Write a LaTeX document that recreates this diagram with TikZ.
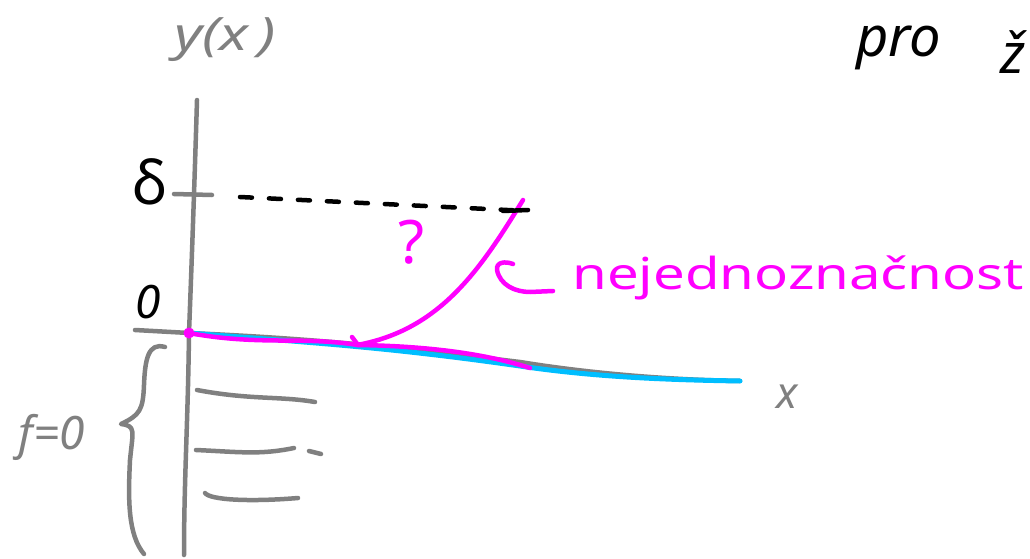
\documentclass[tikz,border=0pt]{standalone}
\usepackage{fontspec}
\setmainfont{Noto Sans}
\definecolor{axgray}{RGB}{128,128,128}
\definecolor{mag}{RGB}{255,0,255}
\definecolor{cyn}{RGB}{0,190,255}
\begin{document}
\begin{tikzpicture}[x=1pt,y=-1pt,
  ax/.style={draw=axgray,line width=4.5pt,line cap=round,line join=round},
  mg/.style={draw=mag,line width=4.5pt,line cap=round,line join=round},
  cy/.style={draw=cyn,line width=5pt,line cap=round,line join=round},
  bk/.style={draw=black,line width=4.5pt,line cap=round},
  lbl/.style={inner sep=0pt,font=\fontsize{34}{34}\selectfont}]
\useasboundingbox[fill=white] (0,0) rectangle (1030,559);
% y axis
\coordinate (ytop) at (197,100);
\coordinate (orig) at (189,333);
\coordinate (ybot) at (184,555);
\draw[ax] (ytop) .. controls (194,200) and (191,280) .. (orig) .. controls (188,420) and (184,480) .. (ybot);
% delta tick
\coordinate (dt1) at (174,194);
\coordinate (dt2) at (212,195);
\draw[ax] (dt1) -- (dt2);
% x axis
\coordinate (xl) at (135,330);
\coordinate (xr) at (740,381);
\draw[ax] (xl) -- (orig) .. controls (300,338) and (380,345) .. (520,362) .. controls (600,375) and (680,380) .. (xr);
% cyan
\draw[cy] (orig) .. controls (300,342) and (380,346) .. (520,366) .. controls (600,378) and (680,380) .. (xr);
% magenta along axis
\coordinate (mend) at (530,368);
\draw[mg] (orig) .. controls (260,346) and (300,336) .. (358,345) .. controls (420,346) and (480,352) .. (mend);
\fill[mag] (orig) circle (5.5pt);
% magenta rising curve
\coordinate (branch) at (357,345);
\coordinate (ctop) at (523,200);
\draw[mg] (branch) .. controls (440,330) and (480,270) .. (ctop);
\draw[mg] (352,337) -- (358,345);
% dashed delta line
\coordinate (d1) at (240,197);
\coordinate (d2) at (528,211);
\draw[bk,dash pattern=on 12pt off 17pt] (d1) -- (d2);
\draw[bk] (503,211) -- (528,210);
% labels
\node[lbl,text=axgray,anchor=west] (ylab) at (174,40) {\fontsize{46}{46}\selectfont\scalebox{1.3}[1]{\itshape y(x\,)}};
\node[lbl,anchor=west] (pro) at (856,48) {\fontsize{56}{56}\selectfont\itshape pro};
\node[lbl,anchor=west] (zh) at (1000,52) {\fontsize{56}{56}\selectfont\itshape ž};
\node[lbl] (delta) at (150,182) {\fontsize{60}{60}\selectfont δ};
\node[lbl] (zero) at (148,302) {\fontsize{46}{46}\selectfont\itshape 0};
\node[lbl,text=mag] (q) at (412,242) {\fontsize{60}{60}\selectfont ?};
\node[lbl,text=axgray] (xlab) at (787,397) {\fontsize{44}{44}\selectfont\itshape x};
\node[lbl,text=axgray] (f0) at (52,437) {\fontsize{46}{46}\selectfont\itshape f=0};
\node[lbl,text=mag,anchor=west] (nej) at (572,278) {\fontsize{44}{44}\selectfont\scalebox{1.28}[1]{nejednoznačnost}};
% hook pointing to curve
\coordinate (hk1) at (513,264);
\coordinate (hk2) at (553,291);
\draw[mg] (hk1) .. controls (505,261) and (496,262) .. (497,270) .. controls (500,285) and (515,292) .. (530,292) -- (hk2);
% brace
\coordinate (br1) at (165,347);
\coordinate (brm) at (121,424);
\coordinate (br2) at (144,554);
\draw[ax] (br1) .. controls (148,342) and (145,360) .. (144,385) .. controls (143,410) and (140,415) .. (brm) .. controls (136,426) and (133,430) .. (130,460) .. controls (128,500) and (128,535) .. (br2);
% horizontal lines
\coordinate (h1a) at (197,390); \coordinate (h1b) at (315,402);
\draw[ax] (h1a) .. controls (250,400) and (280,396) .. (h1b);
\coordinate (h2a) at (196,450); \coordinate (h2b) at (294,448);
\draw[ax] (h2a) .. controls (240,452) and (260,455) .. (h2b);
\coordinate (h2c) at (309,451); \coordinate (h2d) at (321,454);
\draw[ax] (h2c) -- (h2d);
\coordinate (h3a) at (205,493); \coordinate (h3b) at (298,498);
\draw[ax] (h3a) .. controls (210,500) and (250,502) .. (h3b);
\end{tikzpicture}
\end{document}
